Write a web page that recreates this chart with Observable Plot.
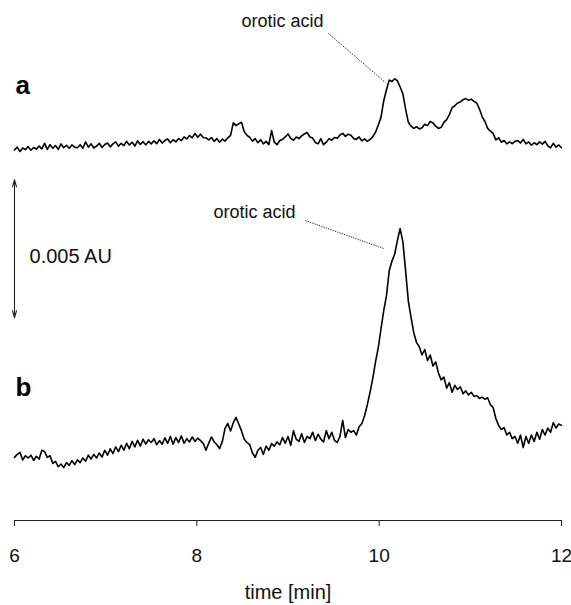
<!DOCTYPE html>
<html><head><meta charset="utf-8">
<script src="https://cdn.jsdelivr.net/npm/d3@7"></script>
<script src="https://cdn.jsdelivr.net/npm/@observablehq/plot@0.6"></script>
<style>body{margin:0;background:#fff}</style>
</head><body><div id="chart"></div>
<script>
// sampling of the chromatograms (min)
const tStart = 6, tStep = 0.03;
// trace a: absorbance (mAU) above its own starting baseline
const traceA = [
0.02,0.12,-0.04,0.09,0.03,0.14,0.01,0.11,0.05,0.16,
0.06,0.26,0.04,0.21,0.08,0.18,0.04,0.24,0.10,0.19,
0.08,0.20,0.12,0.10,0.21,0.08,0.31,0.12,0.24,0.09,
0.16,0.26,0.11,0.22,0.27,0.13,0.24,0.31,0.16,0.26,
0.18,0.33,0.20,0.30,0.16,0.35,0.22,0.32,0.20,0.33,
0.24,0.35,0.25,0.40,0.27,0.36,0.42,0.28,0.39,0.31,
0.43,0.36,0.49,0.42,0.54,0.46,0.62,0.48,0.59,0.47,
0.46,0.38,0.47,0.33,0.43,0.30,0.41,0.34,0.46,0.55,
1.00,0.90,0.97,1.02,0.68,0.55,0.48,0.34,0.43,0.28,
0.39,0.24,0.33,0.21,0.72,0.30,0.21,0.36,0.40,0.49,
0.60,0.44,0.37,0.49,0.43,0.53,0.60,0.65,0.49,0.45,
0.29,0.24,0.43,0.21,0.30,0.43,0.37,0.47,0.44,0.56,
0.62,0.51,0.59,0.55,0.43,0.40,0.49,0.35,0.42,0.33,
0.40,0.50,0.66,0.92,1.20,1.80,2.20,2.55,2.50,2.60,
2.52,2.30,2.05,1.50,1.02,0.88,0.80,0.86,0.78,0.82,
0.95,0.90,1.05,1.00,0.88,0.80,0.84,1.02,1.12,1.30,
1.55,1.62,1.72,1.76,1.84,1.88,1.82,1.86,1.78,1.72,
1.50,1.22,1.05,0.80,0.70,0.62,0.38,0.46,0.30,0.36,
0.24,0.31,0.25,0.33,0.36,0.27,0.40,0.24,0.31,0.19,
0.28,0.21,0.31,0.23,0.33,0.17,0.10,0.26,0.12,0.20,0.10
];
// trace b: absorbance (mAU) above its own starting baseline
const traceB = [
0.04,0.15,0.22,-0.05,0.10,0.02,0.12,-0.07,0.08,-0.02,
0.30,0.25,0.04,0.10,-0.18,-0.10,-0.30,-0.20,-0.33,-0.15,
-0.25,-0.08,-0.22,-0.05,-0.15,0.02,-0.10,0.12,-0.02,0.15,
0.02,0.20,0.05,0.30,0.12,0.35,0.18,0.42,0.25,0.48,
0.30,0.55,0.35,0.62,0.42,0.66,0.45,0.70,0.52,0.68,
0.58,0.72,0.50,0.65,0.52,0.75,0.55,0.80,0.52,0.76,
0.58,0.82,0.55,0.72,0.60,0.78,0.62,0.74,0.65,0.55,
0.30,0.55,0.78,0.60,0.50,0.36,0.62,1.10,1.27,1.00,
1.30,1.49,1.25,1.00,0.70,0.58,0.50,0.20,0.04,0.30,
0.40,0.15,0.45,0.30,0.54,0.45,0.60,0.50,0.76,0.55,
0.80,0.48,1.01,0.70,0.62,0.90,0.58,0.80,0.72,0.95,
0.65,0.88,0.70,0.60,1.01,0.72,0.95,0.66,0.58,0.80,
1.38,0.76,1.05,0.95,1.01,0.85,1.15,1.27,1.55,1.95,
2.40,2.90,3.50,4.02,4.70,5.36,5.90,6.80,7.15,7.40,
7.90,8.33,7.85,6.80,5.70,5.10,4.55,4.20,4.05,3.75,
3.95,3.55,3.75,3.35,3.50,3.10,2.85,2.95,2.55,2.75,
2.40,2.65,2.50,2.60,2.35,2.45,2.30,2.40,2.25,2.28,
2.18,2.22,2.15,2.20,1.95,1.85,1.45,1.20,1.05,1.12,
0.85,0.95,0.72,0.80,0.55,0.85,0.40,0.80,0.55,0.85,
0.62,0.95,0.70,1.05,0.85,1.10,0.95,1.30,1.10,1.25,1.20
];
const traceOffsets = {a: 11.16, b: 0};     // vertical stacking (mAU)
const xTicks = [6, 8, 10, 12];
const xLabel = "time [min]";
const traceNames = [
  {name: "a", t: 6.01, v: 13.22},
  {name: "b", t: 6.01, v: 2.28}
];
const noteTop = {text: "orotic acid", t: 9.389, v: 15.62, t1: 9.444, v1: 15.40, t2: 10.069, v2: 13.62};
const noteBottom = {text: "orotic acid", t: 8.183, v: 8.73, t1: 9.192, v1: 8.62, t2: 10.047, v2: 7.61};
const scaleBar = {t: 6.0, low: 5.1, high: 10.1, label: "0.005 AU", labelT: 6.165, labelV: 7.10};
const yDomain = [-2.246, 16.594];

const toRows = (vals, off) => vals.map((v, i) => ({t: tStart + i * tStep, v: v + off}));
const rowsA = toRows(traceA, traceOffsets.a);
const rowsB = toRows(traceB, traceOffsets.b);
const mid = (scaleBar.low + scaleBar.high) / 2;
const barArrows = [{y1: mid, y2: scaleBar.high}, {y1: mid, y2: scaleBar.low}];

const chart = Plot.plot({
  width: 571, height: 605,
  marginLeft: 14, marginRight: 10, marginTop: 0, marginBottom: 85,
  x: {domain: [6, 12]},
  y: {domain: yDomain, axis: null},
  style: {fontFamily: "'Liberation Sans', Arial, sans-serif", fontSize: "20px", color: "#111", background: "#fff", overflow: "visible"},
  marks: [
    Plot.ruleY([yDomain[0]], {x1: 6, x2: 12, stroke: "#222", strokeWidth: 1.2}),
    Plot.axisX({ticks: xTicks, tickFormat: d3.format("d"), tickSize: 6, tickPadding: 22, fontSize: 19, label: null, stroke: "#222"}),
    Plot.text([xLabel], {frameAnchor: "bottom", dy: 78, lineAnchor: "bottom", fontSize: 20, fill: "#111"}),
    Plot.line(rowsA, {x: "t", y: "v", stroke: "#000", strokeWidth: 1.6}),
    Plot.line(rowsB, {x: "t", y: "v", stroke: "#000", strokeWidth: 1.6}),
    Plot.arrow(barArrows, {x1: () => scaleBar.t, x2: () => scaleBar.t, y1: "y1", y2: "y2", bend: 0, headLength: 10, headAngle: 32, stroke: "#222", strokeWidth: 1.1}),
    Plot.text([scaleBar], {x: "labelT", y: "labelV", text: "label", textAnchor: "start", lineAnchor: "bottom", fontSize: 20, fill: "#111"}),
    Plot.text(traceNames, {x: "t", y: "v", text: "name", textAnchor: "start", lineAnchor: "bottom", fontSize: 26, fontWeight: "bold", fill: "#000"}),
    Plot.link([noteTop, noteBottom], {x1: "t1", y1: "v1", x2: "t2", y2: "v2", stroke: "#222", strokeWidth: 1, strokeDasharray: "1.2,1.2"}),
    Plot.text([noteTop], {x: "t", y: "v", text: "text", textAnchor: "end", lineAnchor: "bottom", fontSize: 18, fill: "#111"}),
    Plot.text([noteBottom], {x: "t", y: "v", text: "text", textAnchor: "start", lineAnchor: "bottom", fontSize: 18, fill: "#111"})
  ]
});
document.getElementById("chart").appendChild(chart);
</script>
</body></html>
